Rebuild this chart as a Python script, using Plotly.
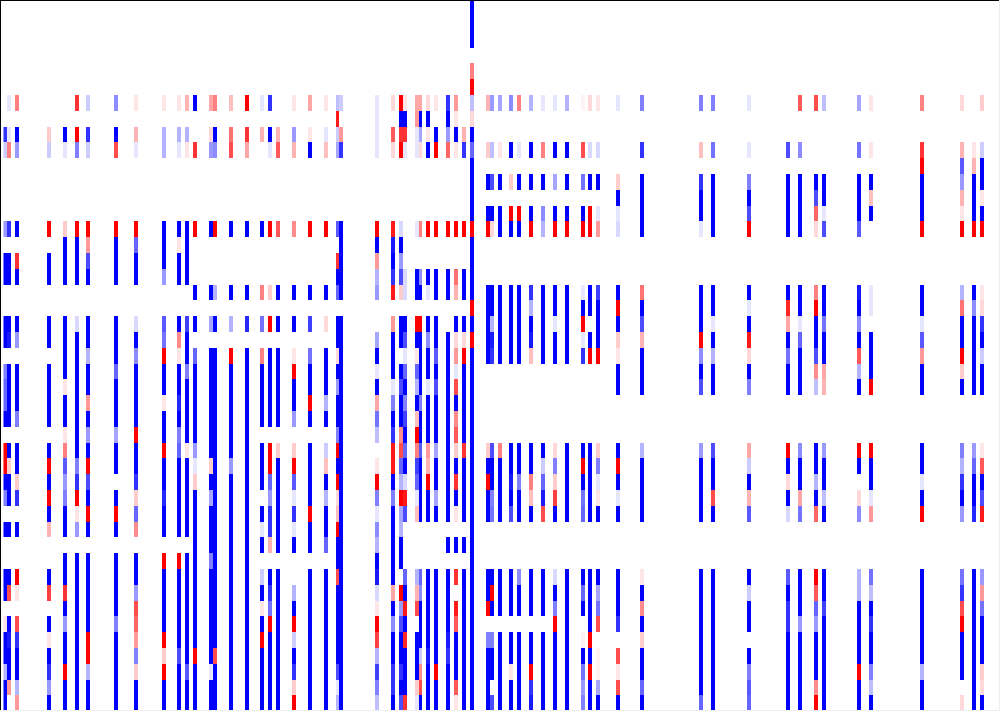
import numpy as np
import plotly.graph_objects as go

N_ROWS = 45
N_COLS = 253

# only these column positions hold anything, the rest of the matrix stays 0
col_index = [0, 1, 3, 11, 15, 18, 21, 28, 33, 40, 44, 46, 48, 52, 53, 57, 61, 65, 67, 69, 73, 77,
             81, 84, 85, 94, 98, 100, 101, 104, 105, 107, 109, 112, 114, 116, 118,
             122, 123, 125, 128, 130, 133, 136, 139, 142, 146, 148, 150, 155, 161,
             176, 179, 188, 198, 201, 205, 207, 216, 219, 232, 242, 245, 247]

# values per column, rows 6..44 (rows 0..5 are only used by col_118)
c000 = [0,0,-8,-2, 0,0,0,0, -4,0,-10,-10, 0,0,-10,-10, 0,-5,-6,-6, -10,0,10,10, -10,-5,0,-10, 0,0,-10,-10, 0,1,-10,-10, -3,-10,-10]
c001 = [-1,0,-1,5, 0,0,0,0, -8,0,-10,-10, 0,0,-10,-9, 0,-10,-10,-10, -10,0,-10,2, -10,-10,0,-10, 0,0,-10,7, 0,-10,-9,-10, -10,4,0]
c003 = [5,0,-10,-4, 0,0,0,0, -10,0,8,-10, 0,0,-10,-4, 0,-10,-10,-10, -5,0,-10,-10, 2,-8,0,-10, 0,0,10,1, 0,7,-8,-10, -10,-3,4]
c011 = [0,0,2,-2, 0,0,0,0, 10,0,-10,-10, 0,0,-10,-10, 0,-10,-10,-10, -10,0,-10,10, -10,10,-10,3, 0,0,-10,7.5, 0,-10,1,-10, -8,-4,-10]
c015 = [0,0,-10,-1, 0,0,0,0, 2,-10,-10,-10, 0,0,-10,-10, -10,-10,1,-10, -10,1,5,-6.5, -4,-5,-10,-10, 0,-10,-10,8, -10,-4,-10,-10, 10,-10,-10]
c018 = [8,0,10,-5, 0,0,0,0, 10,-10,-10,-10, 0,0,-1.5,-10, -10,-10,-10,-10, -10,-10,-10,-5, -8,10,1,-4, 0,-10,-10,-10, -10,-10,-10,-10, -10,-10,-10]
c021 = [-2,0,-8,-2, 0,0,0,0, 10,4,-7,-10, 0,0,-10,-10, -3,-10,-10,4, -10,-4,-10,10, -7,-10,10,-10, 0,-10,-10,-10, -10,-10,10,10, -3,-10,-10]
c028 = [-4.5,0,-10,7, 0,0,0,0, 10,-10,-10,-10, 0,0,-10,-10, -10,-6,-10,-10, -10,-3.5,-10,-10, 0,-10,10,-10, 0,-10,-10,-10, -10,-5,-10,-10, -10,-10,-10]
c033 = [1,0,3,-1, 0,0,0,0, 10,-6,-10,-10, 0,0,-1.5,-10, -4.5,-10,-10,-10, -10,10,-10,-10, -8,2,-6,4.5, 0,-10,-10,-4, 7,6,4,-5, 2,-10,-10]
c040 = [1,0,-3,-3, 0,0,0,0, -10,-10,-10,-4, 0,0,-6.5,-5.5, 10,-10,-10,1, -10,-10,10,-10, -10,-8.5,-10,-10, 0,10,-10,-10, -10,-10,10,2, 10,-10,-10]
c044 = [1,0,-3,-1, 0,0,0,0, -10,1,-10,-10, 0,0,-10,4.5, 1,-10,-10,-8.5, -10,-5,-6,-10, -10,-10,-10,-10, 0,10,-10,-10, -10,-10,-10,-7, -10,-10,-10]
c046 = [3,0,-3,1, 0,0,0,0, -10,-10,-10,-10, 0,0,-7.5,-10, -10,-5,-10,-10, -10,-10,1,-10, -10,-10,-10,-10, 0,-10,-10,-10, -10,-10,-10,-10, -6.5,-10,-10]
c048 = [-10,0,0,8, 0,0,0,0, 10,0,0,0, -10,0,-10,0, -6,-10,-10,-10, -10,-10,-4,-1, 2,-10,-10,-10, -10,-10,-10,-10, -10,-10,-10,10, -10,-10,-10]
c052 = [3.5,0,1.5,-4, 0,0,0,0, -10,0,0,0, -10,0,-3.5,0, -10,-10,-10,-10, -10,-10,-10,2, -10,-3.5,-10,-10, -10,-5,-10,-10, -10,-10,-10,-10, -1,-10,-10]
c053 = [5,0,-10,-4.5, 0,0,0,0, 10,0,0,0, -3,0,-10,0, -10,-10,-10,-10, -10,-10,-10,-10, -10,-10,-10,-10, -10,-10,-10,-10, -10,-10,-10,7, -10,-10,-10]
c057 = [2.5,0,5.5,7, 0,0,0,0, -10,0,0,0, -10,0,-3,0, 10,-10,-10,-10, -10,-10,-10,-4, -10,-10,-10,-10, -10,-10,-10,-10, -10,-10,-10,-10, -10,-10,-10]
c061 = [10,0,8,3.5, 0,0,0,0, -10,0,0,0, -10,0,-8.5,0, -10,-10,-10,-10, -10,-10,-10,-10, -10,-10,-10,-10, -10,-10,-10,-10, -10,-10,-10,-10, -10,-10,-10]
c065 = [-1,0,3,0, 0,0,0,0, -10,0,0,0, 5,0,-5.5,0, 5,-10,-10,-10, -10,0,-10,-10, -10,0,-10,-1, -10,0,-2,-10, 1,-10,10,-10, -10,-10,-10]
c067 = [-8,0,-10,-1, 0,0,0,0, 10,0,0,0, 2,0,10,0, -10,-10,-10,-10, -10,0,10,10, -6,-4,-8,-8, 3,0,-10,-8, -5.5,10,-10,-10, -10,-10,-10]
c069 = [0,0,3,6.5, 0,0,0,0, 6.5,0,0,0, -10,0,-10,0, -10,-10,-10,-10, -10,0,2,-10, -10,-10,-10,-10, -10,0,-10,-10, -10,-10,-10,-10, -10,-10,-10]
c073 = [1,0,-4,3, 0,0,0,0, 4.5,0,0,0, -10,0,-10,0, 1,10,-10,-10, -4,0,2,10, -6.5,-1,-8,-1, -10,0,0,-3, -10,10,-2,-10, -8,2,10]
c077 = [3.5,0,1,-10, 0,0,0,0, 10,0,0,0, -10,0,-7.5,0, -5.5,-10,-10,10, -10,0,-10,-10, -10,-10,10,-10, -10,0,-10,-10, -10,-10,-10,-10, -10,-10,-10]
c081 = [1,0,-1,2.5, 0,0,0,0, 10,0,0,0, -10,0,1.5,0, -10,-10,-10,-3, -10,0,-2,2.5, -10,-3,-10,-10, -6,0,-10,-10, -10,-10,-10,-10, -10,-10,-10]
c084 = [-2.5,9,-2,-3.5, 0,0,0,0, -6.5,0,8,-10, -6,0,-10,-10, 1.5,-10,-4,-10, -10,-5,10,-10, 10,1.5,2.5,10, -10,-10,7,-10, -10,-10,-10,-10, -7,-1,-3]
c085 = [-2,0,4,-8, 0,0,0,0, -10,-10,-10,-10, -10,0,-10,-10, -10,-10,-10,-10, -10,-10,-10,-10, -10,-10,-10,-10, -10,-10,-10,-10, -10,-10,-10,-10, -10,-10,-10]
c094 = [-1,-1,-1,-1, 0,0,0,0, 10,-10,4,-3, -4,0,0,-3.5, -10,-1,-10,3.5, -5.5,-2.5,0,1, 10,-5,-1,-4.5, -3,-10,-9,-1.5, 1,10,7.5,-3, -7.5,-5,-2.5]
c098 = [1.5,0,6.5,1.5, 0,0,0,0, 9,-9,-10,-8, 9,0,4,-10, -10,-10,-1,-5, -10,-8,9,9, -10,-5,-10,-10, -10,-10,-10,3.5, -10,-4.5,-10,-10, -8,-8,-10]
c100 = [10,-10,8,10, 0,0,0,0, -1.5,-10,-4,-7, 2,0,-10,-10, 0,-10,-7,-10, -10,4.5,7,-6, -3,10,-3.5,-3, -10,-10,0,10, -4,-7,-10,-10, -8,-10,-7]
c101 = [1,-10,8,-1, 0,0,0,0, 0,0,0,-1.5, -1.5,0,-10,-7, -1,-6,-10,-5, -7.5,-10,-6,-10, -1.5,9,-7,0, 0,0,-6,-10, 9,-10,8.5,-10, -10,-10,8]
c104 = [3.5,4,-1,-1, 0,0,0,0, -1,0,0,-10, -10,0,10,-10, 1,-6,-3,-10, 2.5,10,5,-7.5, -6,-1,2.5,0, 0,0,-3,3, 7,0,-10,-10, -10,2,-1]
c105 = [3.5,-10,-3.5,1.5, 0,0,0,0, 5,0,0,-4.5, -10,0,10,-10, -10,-10,-10,-5, -10,-10,-6.5,-10, -10,-10,-10,0, 0,0,-6,-4.5, -10,-10,-10,-2, 4.5,7,-10]
c107 = [1.5,-10,1,-10, 0,0,0,0, 10,0,0,-10, -1,0,-10,-4.5, -10,-10,-1,-10, -10,-10,4,3, 10,-10,-10,0, 0,0,-10,-10, -10,-10,-10,-9, -10,-10,-10]
c109 = [1,0,-10,10, 0,0,0,0, 10,0,0,-10, -10,0,-10,-10, -6.5,-10,-7,-10, -10,-10,-3.5,-10, -10,-3.5,-10,0, 0,0,-10,-10, -10,-10,-10,-10, 10,-10,-10]
c112 = [-8,-10,-4,6, 0,0,0,0, 10,0,0,-10, -10,0,0,-10, -10,-10,-10,-10, -10,-10,-10,-10, -10,-10,-10,0, -10,0,-10,-10, -10,-10,-9,-8, -10,-10,-10]
c114 = [4,1,-10,1, 0,0,0,0, 10,0,0,5.5, 3,0,-10,1.5, 4,-1,7,-10, 4.5,6.5,2,-10, 8,-10,1,0, -10,0,8,0, 9,6.5,-10,-10, -10,6.5,1]
c116 = [0,0,3,-8, 0,0,0,0, 10,0,0,-10, -10,0,-10,1.5, 10,-10,-10,-10, -10,-10,8,-10, -10,-10,-10,0, -10,0,-10,-10, -10,-10,-10,-10, -10,-10,-10]
c118 = [-2.5,1.5,-10,-6, -10,-10,-10,-10, 10,-10,-10,-10, -10,10,-10,10, -10,-10,-10,-10, -10,-10,-10,-10, -10,-10,-10,-10, -10,-10,-10,-10, -10,-10,-10,-10, -10,-10,-10]
c122 = [3,0,0,2, 0,-10,0,-10, 10,0,0,0, -10,-10,-10,-10, -10,0,0,0, 0,0,2,-10, 10,-10,-10,0, 0,0,-10,-10, 10,0,-5,-10, -10,-10,-10]
c123 = [-4,0,0,-2.5, 0,-7,0,-10, 1.5,0,0,0, -10,-10,-3,-9, -8,0,0,0, 0,0,-7,-10, -10,-5,-5.5,0, 0,0,-10,10, -10,0,-5,-10, -10,0,-7]
c125 = [-3.5,0,0,1, 0,-10,0,-10, -10,0,0,0, -10,-10,-10,-10, -10,0,0,0, 0,0,5,-10, -10,-10,-10,0, 0,0,-10,-10, -10,0,-10,-10, -10,-10,-10]
c128 = [-4.5,0,0,-10, 0,2,0,10, -10,0,0,0, -10,-10,-10,-10, -10,0,0,0, 0,0,-10,-10, -9,-10,-7,0, 0,0,-10,-10, -10,0,-10,-10, 1,-10,-10]
c130 = [5,0,0,-1, 0,-10,0,10, -10,0,0,0, -10,-10,-10,-10, -10,0,0,0, 0,0,-10,-10, -5,-10,-10,0, 0,0,-4.5,-10, -10,0,-10,-10, -10,-10,-10]
c133 = [-3,0,0,-10, 0,-10,0,-10, 10,0,0,0, -8,-3,-10,-9, 2.5,0,0,0, 0,0,-10,-10, 5,2.5,-10,0, 0,0,-10,-10, -10,0,-10,-10, 10,-8,-9]
c136 = [-1,0,0,5, 0,-10,0,-4.5, -3,0,0,0, -10,-10,-10,-10, -10,0,0,0, 0,0,-10,-2, -6,-9,7,0, 0,0,-10,-10, -10,0,-10,-10, -10,-10,-10]
c139 = [-1,0,0,-10, 0,-3.5,0,-10, 10,0,0,0, -10,-10,-1,-10, -10,0,0,0, 0,0,1.5,-5, 2,7.5,-10,0, 0,0,-1.5,-10, -5,10,-10,-10, -10,-10,-10]
c142 = [-3,0,0,-10, 0,-10,0,-10, 10,0,0,0, -10,-10,-10,-10, -10,0,0,0, 0,0,-10,-10, -10,-10,-10,0, 0,0,-10,-10, -10,-10,-10,-10, -10,-10,-10]
c146 = [0.5,0,0,7, 0,-5.5,0,-10, 10,0,0,0, -1,-10,10,-1, -8,0,0,0, 0,0,-10,10, -10,-5.5,-6,0, 0,0,-10,-6, -10,0,0.5,-10, -5.5,-4,-5]
c148 = [1.5,0,0,-1.5, 0,-10,0,10, 10,0,0,0, -10,-10,0,-10, 10,0,0,0, 0,0,-10,-10, -10,-10,-10,0, 0,0,-10,-10, -10,-10,10,-10, 10,-10,-10]
c150 = [1,0,0,-1.5, 0,-10,0,-1, 4,0,0,0, -7.5,-10,-10,-10, 10,0,0,0, 0,0,2,-5, -1,1,-10,0, 0,0,-10,-3.5, -5.5,7,0,0.5, 0.5,-3.5,-10]
c155 = [-1,0,0,0, 0,2,-10,-1, -1.5,0,0,0, -10,10,-10,2, 1,-10,-10,0, 0,0,-10,10, -10,-1,-10,0, 0,0,-10,-10, -10,-8,0,7, 1,7,-10]
c161 = [-5,0,0,-8, 0,-10,-10,-10, -10,0,0,0, 5.5,-10,-7,3, -10,-10,-10,0, 0,0,-3,-10, -10,-10,-10,0, 0,0,1,-10, 4.5,-10,2,-10, -10,-6,-10]
c176 = [-5,0,0,2.5, 0,-8,-10,-10, -1,0,0,0, -10,-10,-10,10, -4.5,-10,-7,0, 0,0,-4,-10, -10,-10,-10,0, 0,0,-10,-10, -10,-10,-10,-10, -10,-10,-6]
c179 = [-5,0,0,-5.5, 0,-10,-10,-10, -10,0,0,0, -10,-10,-1,-10, -3,-10,-10,0, 0,0,-7,-10, -10,7,-10,0, 0,0,-10,-10, -10,-10,-10,-10, -10,-10,-10]
c188 = [-1,0,0,-1, 0,-5,-10,-7, 10,0,0,0, -10,-1,-10,9, 1.5,-10,-5,0, 0,0,3.5,-2, -10,3,-6.5,0, 0,0,-10,-2, -10,-10,0,-10, -5,-6.5,-6]
c198 = [0,0,0,-7, 0,-10,-10,-10, -10,0,0,0, -10,8.5,3.5,-10, -5.5,-10,-10,0, 0,0,10,-10, 1.5,-10,-1.5,0, 0,0,-6.5,-10, -8,-8,-10,-10, -10,-10,-10]
c201 = [6.5,0,0,-4.5, 0,-10,-10,-10, -10,0,0,0, -10,-10,-1,-6, -10,-10,-10,0, 0,0,-4.5,-10, -10,3.5,-5.5,0, 0,0,-10,-10, -10,-4,-10,-10, -10,-10,-10]
c205 = [7,0,0,0, 0,-10,-7,6, 1.5,0,0,0, 5,10,-10,-10, -7,4.5,-2.5,0, 0,0,-10,-10, -3,-10,6,0, 0,0,10,6.5, -6,-4,-10,-10, -10,4.5,10]
c207 = [-2.5,0,0,0, 0,-10,-10,-1, -7,0,0,0, -10,-10,-5.5,-10, -10,3.5,3,0, 0,0,-4,-10, -10,-2.5,-10,0, 0,0,-10,-10, -7.5,-10,-10,-10, -10,-10,-10]
c216 = [-3.5,0,0,-5.5, 0,-10,-10,-10, -6.5,0,0,0, -9,-10,-4.5,-10, 6.5,-3,-10,0, 0,0,10,-10, 0,1.5,-4.5,0, 0,0,-3,-3, -10,-10,-10,-10, 10,-10,-10]
c219 = [1,0,0,1, 0,-10,2.5,-10, 0,0,0,0, -1,-1,0,-10, -10,-10,10,0, 0,0,10,-10, -10,-1,4,0, 0,0,-5.5,-2.5, -10,-8,-10,-10, -5,-2.5,-10]
c232 = [5,0,0,8, 10,-10,-10,-10, 10,0,0,0, -10,-10,-1,-6.5, 4,-10,-10,0, 0,0,-10,-10, -1,-10,10,0, 0,0,-10,-10, -10,-10,-10,-10, -3,-10,-10]
c242 = [1.5,0,0,3, -6.5,-4,3,1, 10,0,0,0, -3,5.5,-10,-10, 10,2,-10,0, 0,0,-5,-3, -8,-10,-4,0, 0,0,-5.5,-8, 7,10,-10,-10, -10,0,1.5]
c245 = [0,0,0,1, 3,-10,-10,-10, 10,0,0,0, -10,-4.5,-10,-10, -10,-10,-10,0, 0,0,-4,-6, -10,-10,-8.5,0, 0,0,-10,-10, -10,-10,-10,-10, -10,-10,-10]
c247 = [2,0,0,-2, -10,-10,1,-10, 10,0,0,0, 1,1.5,-8,-10, -2,-10,-10,0, 0,0,1,6.5, -10,-7,9,0, 0,0,-4,4, -5.5,-10,-10,-10, 2,1.5,-10]

# the one column that also reaches into the top rows
c118_top = [-10, -10, -10, 0, 5, 10]

col_values = [c000, c001, c003, c011, c015, c018, c021, c028, c033, c040, c044, c046, c048, c052,
              c053, c057, c061, c065, c067, c069, c073, c077, c081, c084, c085, c094, c098, c100,
              c101, c104, c105, c107, c109, c112, c114, c116, c118, c122, c123, c125, c128, c130,
              c133, c136, c139, c142, c146, c148, c150, c155, c161, c176, c179, c188, c198, c201,
              c205, c207, c216, c219, c232, c242, c245, c247]

z = np.zeros((N_ROWS, N_COLS))
for idx, vals in zip(col_index, col_values):
    z[6:, idx] = vals
z[:6, 118] = c118_top

fig = go.Figure(go.Heatmap(
    z=z,
    x=list(range(N_COLS)),
    y=list(range(N_ROWS)),
    colorscale=[[0, '#0000ff'], [0.5, '#ffffff'], [1, '#ff0000']],
    zmin=-10,
    zmax=10,
    showscale=False,
    hoverinfo='skip'
))

fig.update_layout(
    width=1000,
    height=711,
    margin=dict(l=1, r=1, t=1, b=1),
    paper_bgcolor='#eeeeee',
    plot_bgcolor='white',
    showlegend=False
)
fig.update_xaxes(range=[-1.13, 251.36], side='top', showline=True, linecolor='black', linewidth=1,
                 showgrid=False, zeroline=False, showticklabels=False, ticks='')
fig.update_yaxes(range=[44.428, -0.446], side='left', showline=True, linecolor='black', linewidth=1,
                 showgrid=False, zeroline=False, showticklabels=False, ticks='')

fig.write_html("out.html", config={'displayModeBar': False},
               post_script="document.body.style.margin='0';document.body.style.overflow='hidden';")
